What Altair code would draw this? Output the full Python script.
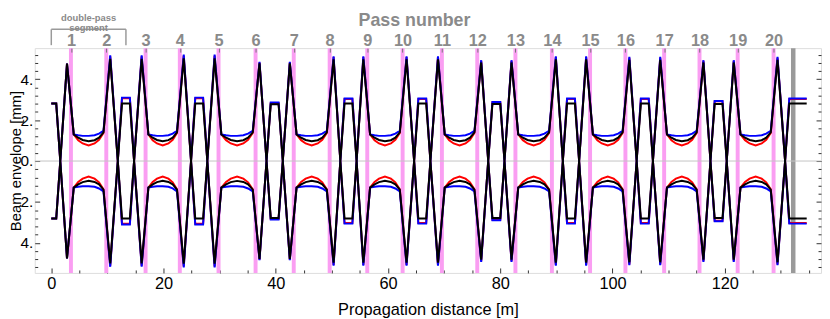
import altair as alt
import pandas as pd

# ---------------- values ----------------
pass_numbers = list(range(1, 21))
odd_bands = [3.5, 16.8, 29.8, 43.2, 56.3, 69.6, 82.7, 96.0, 109.2, 122.3]    # passes 1,3,...,19
even_bands = [9.8, 22.9, 36.4, 49.6, 62.6, 75.9, 89.2, 102.3, 115.5, 128.7]  # passes 2,4,...,20
segment_end = 132.2          # grey marker at the end
segment_bracket = [0.0, 13.3]

# peak heights next to odd / even passes
odd_peak_blue = [4.76, 5.17, 5.20, 4.85, 5.12, 5.12, 4.93, 5.12, 5.09, 4.93]
odd_peak_red = [4.76, 5.12, 5.15, 4.82, 5.08, 5.08, 4.90, 5.08, 5.05, 4.90]
odd_peak_black = [4.76, 5.00, 5.02, 4.78, 4.97, 4.97, 4.82, 4.97, 4.95, 4.82]
even_peak_blue = [5.17, 5.20, 4.85, 5.12, 5.12, 4.93, 5.12, 5.09, 4.93, 5.09]
even_peak_red = [5.12, 5.15, 4.82, 5.08, 5.08, 4.90, 5.08, 5.05, 4.90, 5.05]
even_peak_black = [5.00, 5.02, 4.78, 4.97, 4.97, 4.82, 4.97, 4.95, 4.82, 4.95]

# plateau after each even pass
plateau_blue = [3.10, 3.10, 2.86, 3.06, 3.06, 2.89, 3.06, 3.06, 2.94, 3.06]
plateau_red = [3.07, 3.07, 2.84, 3.03, 3.03, 2.87, 3.03, 3.03, 2.92, 3.03]
plateau_black = [2.81, 2.81, 2.78, 2.81, 2.81, 2.79, 2.81, 2.81, 2.79, 2.81]

# dip between odd and even pass (fraction of the gap, value)
dip_frac = [0.0, 0.15, 0.3, 0.5, 0.7, 0.85, 1.0]
dip_black = [1.30, 1.14, 1.03, 0.97, 1.02, 1.14, 1.40]
dip_red = [1.30, 1.02, 0.86, 0.76, 0.86, 1.04, 1.38]
dip_blue = [1.30, 1.26, 1.23, 1.23, 1.26, 1.34, 1.48]

start_x = [0.0, 0.88, 1.6]
start_value = [2.81, 2.81, 0.0]
tail_end = 134.6

# feature offsets (m) relative to the pass / segment positions
peak_off = 0.7
dip_off = 0.5
zero_off = 1.45
plat_off = 0.7

series = {
    "red": (odd_peak_red, even_peak_red, plateau_red, dip_red),
    "blue": (odd_peak_blue, even_peak_blue, plateau_blue, dip_blue),
    "black": (odd_peak_black, even_peak_black, plateau_black, dip_black),
}


def build(name):
    op, ep, pl, dp = series[name]
    pts = list(zip(start_x, start_value))
    for k in range(len(odd_bands)):
        bo, be = odd_bands[k], even_bands[k]
        pts.append((bo - peak_off, op[k]))
        x0, x1 = bo + dip_off, be - dip_off
        for f, v in zip(dip_frac, dp):
            pts.append((x0 + f * (x1 - x0), v))
        pts.append((be + peak_off, ep[k]))
        m = (be + odd_bands[k + 1]) / 2 if k < len(odd_bands) - 1 else segment_end
        pts.append((m - zero_off, 0.0))
        pts.append((m - plat_off, pl[k]))
        if k < len(odd_bands) - 1:
            pts.append((m + plat_off, pl[k]))
            pts.append((m + zero_off, 0.0))
        else:
            pts.append((tail_end, pl[k]))
    rows = []
    for i, (x, v) in enumerate(pts):
        rows.append({"x": x, "y": v, "half": "up", "i": i})
        rows.append({"x": x, "y": -v, "half": "down", "i": i})
    return pd.DataFrame(rows)


red_df = build("red")
blue_df = build("blue")
black_df = build("black")

all_bands = sorted(odd_bands + even_bands)
bands_df = pd.DataFrame({"b": all_bands, "p": pass_numbers})
bands_df["b0"] = bands_df["b"] - 0.35
bands_df["b1"] = bands_df["b"] + 0.35
end_df = pd.DataFrame({"b0": [segment_end - 0.4], "b1": [segment_end + 0.4]})
zero_df = pd.DataFrame({"y": [0.0]})
bracket_h = pd.DataFrame({"x0": [segment_bracket[0]], "x1": [segment_bracket[1]]})
bracket_v = pd.DataFrame({"x": segment_bracket})
label_df = pd.DataFrame({"x": [sum(segment_bracket) / 2], "t": ["double-pass\nsegment"]})

# ---------------- chart ----------------
W, H = 794, 227
xs = alt.Scale(domain=[-2.95, 137.15], nice=False, zero=False)
ys = alt.Scale(domain=[-5.47, 5.52], nice=False, zero=False)
FS = 16.5
DARK = "#333333"
GREY = "#8a8a8a"

x_major = alt.Axis(orient="bottom", values=[0, 20, 40, 60, 80, 100, 120], tickSize=5, offset=-5,
                   domain=False, grid=False, labelPadding=3, labelFontSize=FS, labelColor="black",
                   tickColor=DARK, labelFlush=False, title="Propagation distance [m]",
                   titleFontSize=FS, titleFontWeight="normal", titlePadding=9, titleColor="black")
x_minor = alt.Axis(orient="bottom", values=[5, 10, 15, 25, 30, 35, 45, 50, 55, 65, 70, 75, 85, 90, 95,
                                            105, 110, 115, 125, 130, 135],
                   tickSize=3, offset=-3, domain=False, grid=False, labels=False, tickColor=DARK, title=None)
label_expr = "indexof([" + ",".join(str(b) for b in all_bands) + "], datum.value) + 1"
x_top = alt.Axis(orient="top", values=all_bands, labelExpr=label_expr, tickSize=4, offset=-4,
                 domain=False, grid=False, labelPadding=0, labelFontSize=FS, labelFontWeight="bold",
                 labelColor=GREY, tickColor="#777777", labelOverlap=False, labelFlush=False,
                 title="Pass number", titleFontSize=18, titleFontWeight="bold", titleColor=GREY,
                 titlePadding=3, titleX=383, titleAlign="center", zindex=2)
y_major = alt.Axis(orient="left", values=[-4, -2, 0, 2, 4], labelExpr="abs(datum.value) + '.'",
                   tickSize=5, offset=-5, domain=False, grid=False, labelPadding=2, labelFontSize=15.5,
                   labelColor="black", tickColor=DARK, title="Beam envelope [mm]", titleFontSize=15,
                   titleFontWeight="normal", titlePadding=-3.4, titleColor="black")
minor_vals = [-5.2, -4.8, -4.4, -3.6, -3.2, -2.8, -2.4, -1.6, -1.2, -0.8, -0.4,
              0.4, 0.8, 1.2, 1.6, 2.4, 2.8, 3.2, 3.6, 4.4, 4.8, 5.2]
y_minor = alt.Axis(orient="left", values=minor_vals, tickSize=3, offset=-3, domain=False, grid=False,
                   labels=False, tickColor=DARK, title=None)
y_right = alt.Axis(orient="right", values=[-4, -2, 0, 2, 4], tickSize=5, offset=-5, domain=False,
                   grid=False, labels=False, tickColor=DARK, title=None)
y_right_minor = alt.Axis(orient="right", values=minor_vals, tickSize=3, offset=-3, domain=False,
                         grid=False, labels=False, tickColor=DARK, title=None)

bands = alt.Chart(bands_df).mark_rect(color="#fa9ef2").encode(
    x=alt.X("b0:Q", scale=xs, axis=None), x2="b1:Q", y=alt.value(0), y2=alt.value(H))
endbar = alt.Chart(end_df).mark_rect(color="#9a9a9a").encode(
    x=alt.X("b0:Q", scale=xs, axis=None), x2="b1:Q", y=alt.value(0), y2=alt.value(H))
zero = alt.Chart(zero_df).mark_rule(color="#c4c4c4", strokeWidth=1).encode(
    y=alt.Y("y:Q", scale=ys, axis=None))


def line(df, color, xa, ya):
    return alt.Chart(df).mark_line(color=color, strokeWidth=2).encode(
        x=alt.X("x:Q", scale=xs, axis=xa),
        y=alt.Y("y:Q", scale=ys, axis=ya),
        detail="half:N",
        order="i:Q",
    )


red = line(red_df, "#ff0000", x_major, y_major)
blue = line(blue_df, "#0000ff", x_minor, y_minor)
black = line(black_df, "#000000", x_top, y_right)
helper = alt.Chart(black_df).mark_point(opacity=0).encode(
    x=alt.X("x:Q", scale=xs, axis=None), y=alt.Y("y:Q", scale=ys, axis=y_right_minor))

br_h = alt.Chart(bracket_h).mark_rule(color="#9a9a9a", strokeWidth=1.5).encode(
    x=alt.X("x0:Q", scale=xs, axis=None), x2="x1:Q", y=alt.value(-19))
br_v = alt.Chart(bracket_v).mark_rule(color="#9a9a9a", strokeWidth=1.5).encode(
    x=alt.X("x:Q", scale=xs, axis=None), y=alt.value(-19), y2=alt.value(-3))
seg_text = alt.Chart(label_df).mark_text(
    fontSize=9.5, fontWeight="bold", color=GREY, lineBreak="\n", lineHeight=10, baseline="middle",
    align="center").encode(x=alt.X("x:Q", scale=xs, axis=None), y=alt.value(-30.25), text="t:N")

chart = alt.layer(bands, endbar, zero, red, blue, black, helper, br_h, br_v, seg_text).resolve_axis(
    x="independent", y="independent"
).properties(
    width=W, height=H,
    autosize=alt.AutoSizeParams(type="none"),
    padding={"left": 27, "top": 39, "right": 1, "bottom": 45},
).configure_view(stroke="#3a3a3a", strokeWidth=1.2).configure(font="Liberation Sans")

chart.save("out.html", embed_options={"renderer": "svg", "actions": False})
